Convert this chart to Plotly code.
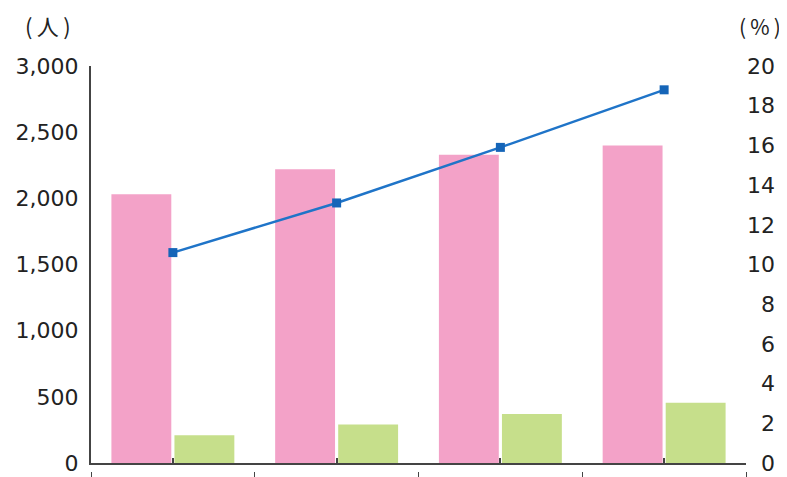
import plotly.graph_objects as go

categories = ["A", "B", "C", "D"]
pink_values = [2030, 2220, 2330, 2400]
green_values = [210, 290, 370, 455]
line_values = [10.6, 13.1, 15.9, 18.8]

left_ticks = [0, 500, 1000, 1500, 2000, 2500, 3000]
left_labels = ["0", "500", "1,000", "1,500", "2,000", "2,500", "3,000"]
right_ticks = [0, 2, 4, 6, 8, 10, 12, 14, 16, 18, 20]
right_labels = ["\u20070", "\u20072", "\u20074", "\u20076", "\u20078", "10", "12", "14", "16", "18", "20"]
boundary_ticks = [-0.5, 0.5, 1.5, 2.5, 3.5]
left_unit = "(\u2009人\u2009)"
right_unit = "(\u2009%\u2009)"

FONT = "DejaVu Sans"
AX = "#444444"
TXT = "#222222"

fig = go.Figure()
fig.add_trace(go.Bar(x=categories, y=pink_values, marker=dict(color="#f3a2c8", line=dict(width=0)),
                     yaxis="y", showlegend=False))
fig.add_trace(go.Bar(x=categories, y=green_values, marker=dict(color="#c6df8b", line=dict(width=0)),
                     yaxis="y", showlegend=False))
fig.add_trace(go.Scatter(x=categories, y=line_values, yaxis="y2", mode="lines+markers",
                         line=dict(color="#1f74c8", width=2.5),
                         marker=dict(symbol="square", size=9, color="#1565b8"),
                         showlegend=False))
# invisible helper so the boundary-tick axis is drawn
fig.add_trace(go.Scatter(x=boundary_ticks, y=[None] * len(boundary_ticks), xaxis="x2", yaxis="y",
                         mode="markers", marker=dict(opacity=0), showlegend=False, hoverinfo="skip"))

# the page body adds an 8px offset, so the figure is sized to fit the 787x477 window
H = 411.0
fig.update_layout(
    width=779, height=469,
    margin=dict(l=83, r=41, t=58, b=0, autoexpand=False),
    paper_bgcolor="white", plot_bgcolor="white",
    barmode="group", bargap=0.23, bargroupgap=0.05,
    font=dict(family=FONT, size=22, color=TXT),
    xaxis=dict(type="category", range=[-0.5, 3.5], showline=True, linecolor=AX, linewidth=2,
               ticks="inside", ticklen=5, tickwidth=1.5, tickcolor=AX, automargin=False,
               showticklabels=False, showgrid=False, zeroline=False, anchor="y"),
    xaxis2=dict(overlaying="x", anchor="free", position=6 / H, range=[-0.5, 3.5], type="linear",
                tickvals=boundary_ticks, ticks="outside", ticklen=6, tickwidth=1.2, tickcolor=AX,
                automargin=False,
                showline=False, showticklabels=False, showgrid=False, zeroline=False),
    yaxis=dict(domain=[14 / H, 1], range=[0, 3000], tickvals=left_ticks, ticktext=left_labels,
               showline=True, linecolor=AX, linewidth=2, ticks="", showgrid=False, zeroline=False,
               automargin=False,
               ticklabelstandoff=6, tickfont=dict(family=FONT, size=22, color=TXT)),
    yaxis2=dict(overlaying="y", side="right", range=[0, 20], tickvals=right_ticks, ticktext=right_labels,
                showline=False, ticks="", showgrid=False, zeroline=False, anchor="x",
                automargin=False,
                ticklabelstandoff=0, tickfont=dict(family=FONT, size=22, color=TXT)),
    annotations=[
        dict(text=left_unit, xref="paper", yref="paper", x=(48 - 91) / 655, y=1 + (66 - 25) / H,
             showarrow=False, font=dict(family="Noto Sans CJK JP", size=22, color=TXT),
             xanchor="center", yanchor="middle"),
        dict(text=right_unit, xref="paper", yref="paper", x=(760 - 91) / 655, y=1 + (66 - 26) / H,
             showarrow=False, font=dict(family="Noto Sans CJK JP", size=21, color=TXT),
             xanchor="center", yanchor="middle"),
    ],
)

fig.write_html("out.html")
